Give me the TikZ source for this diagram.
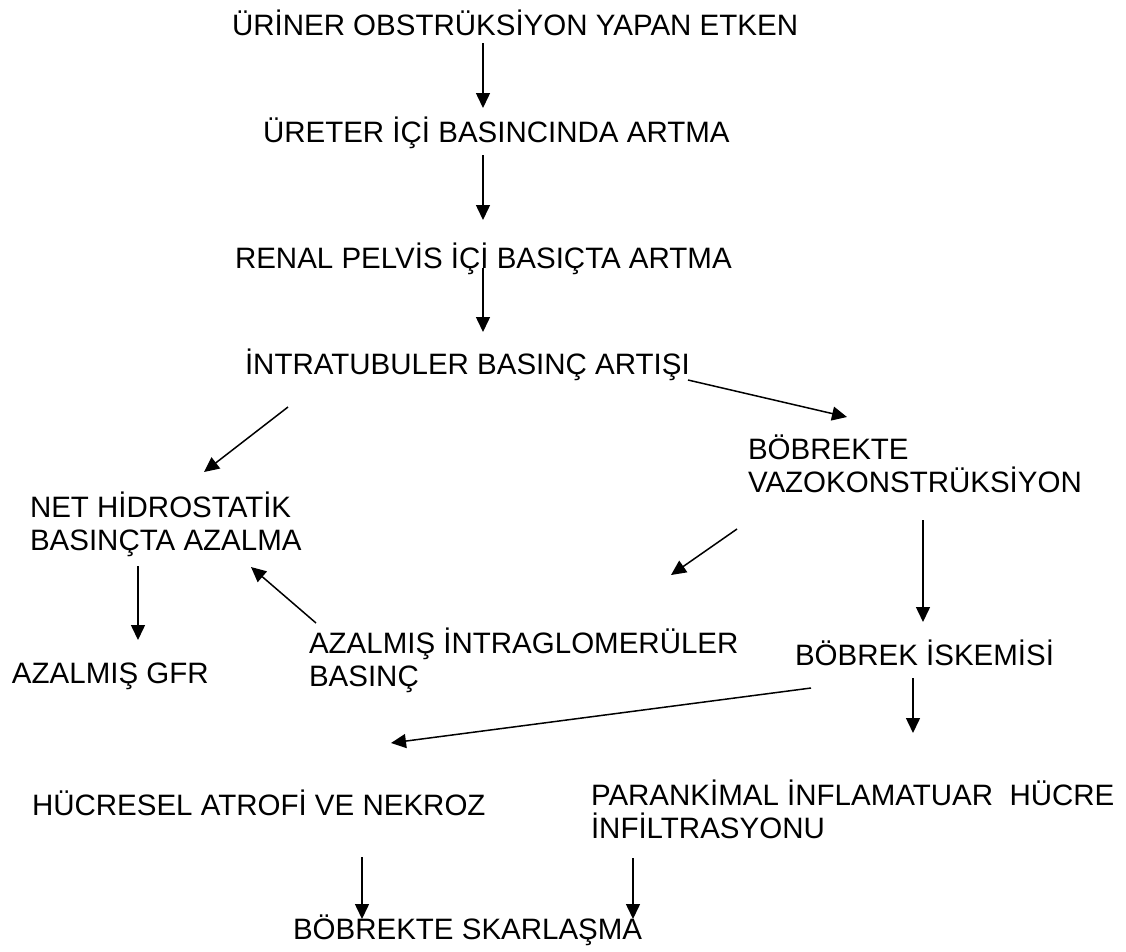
\documentclass[tikz,border=0pt]{standalone}
\usepackage{fontspec}
\setmainfont{Liberation Sans}
\usetikzlibrary{arrows.meta}
\begin{document}
\begin{tikzpicture}[x=1pt,y=-1pt,
  lbl/.style={anchor=base west,inner sep=0pt,outer sep=0pt,align=left,
    font=\fontsize{29.5}{33}\selectfont},
  conn/.style={line width=1.5pt,-{Triangle[length=15pt,width=14pt]}}]
\useasboundingbox[fill=white] (0,0) rectangle (1126,951);
% texts (multi-line nodes are placed by the baseline of their last line)
\node[lbl] (t1) at (232,35) {ÜRİNER OBSTRÜKSİYON YAPAN ETKEN};
\node[lbl] (t2) at (263,142) {ÜRETER İÇİ BASINCINDA ARTMA};
\node[lbl] (t3) at (235,268) {RENAL PELVİS İÇİ BASIÇTA ARTMA};
\node[lbl] (t4) at (245,374) {İNTRATUBULER BASINÇ ARTIŞI};
\node[lbl] (t5) at (748,492) {BÖBREKTE\\VAZOKONSTRÜKSİYON};
\node[lbl] (t6) at (30,550) {NET HİDROSTATİK\\BASINÇTA AZALMA};
\node[lbl] (t7) at (309,686) {AZALMIŞ İNTRAGLOMERÜLER\\BASINÇ};
\node[lbl] (t8) at (12,683) {AZALMIŞ GFR};
\node[lbl] (t9) at (795,665) {BÖBREK İSKEMİSİ};
\node[lbl] (t10) at (32,815) {HÜCRESEL ATROFİ VE NEKROZ};
\node[lbl] (t11) at (591,838) {PARANKİMAL İNFLAMATUAR~ HÜCRE\\İNFİLTRASYONU};
\node[lbl] (t12) at (293,939) {BÖBREKTE SKARLAŞMA};
% connector ends
\coordinate (a1s) at (483,43);  \coordinate (a1e) at (483,108);
\coordinate (a2s) at (483,155); \coordinate (a2e) at (483,220);
\coordinate (a3s) at (483,268); \coordinate (a3e) at (483,332);
\coordinate (a4s) at (288,407); \coordinate (a4e) at (204,472);
\coordinate (a5s) at (688,380); \coordinate (a5e) at (847,417);
\coordinate (a6s) at (737,529); \coordinate (a6e) at (671,575);
\coordinate (a7s) at (923,520); \coordinate (a7e) at (923,622);
\coordinate (a8s) at (138,566); \coordinate (a8e) at (138,640);
\coordinate (a9s) at (316,623); \coordinate (a9e) at (251,567);
\coordinate (a10s) at (811,688); \coordinate (a10e) at (391,743);
\coordinate (a11s) at (913,678); \coordinate (a11e) at (913,733);
\coordinate (a12s) at (362,857); \coordinate (a12e) at (362,919);
\coordinate (a13s) at (633,858); \coordinate (a13e) at (633,919);
\foreach \i in {1,...,13} \draw[conn] (a\i s) -- (a\i e);
\end{tikzpicture}
\end{document}
